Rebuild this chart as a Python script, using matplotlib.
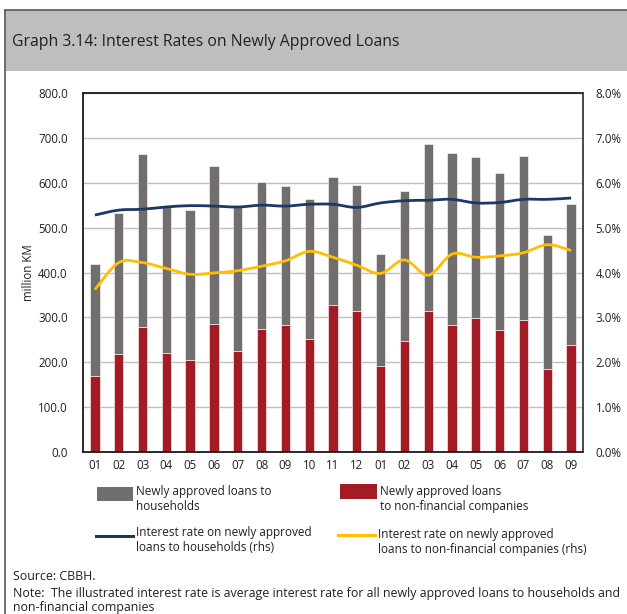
import numpy as np
import matplotlib.pyplot as plt
from matplotlib.path import Path
from matplotlib.patches import PathPatch, Rectangle
from matplotlib.lines import Line2D

plt.rcParams['font.family'] = ['Open Sans', 'DejaVu Sans']

# Monthly data (two years, Jan..Dec then Jan..Sep)
months = ['01', '02', '03', '04', '05', '06', '07', '08', '09', '10', '11', '12',
          '01', '02', '03', '04', '05', '06', '07', '08', '09']
loans_companies = [170, 219, 279, 221, 204, 286, 226, 275, 284, 251, 328, 315,
                   192, 247, 314, 284, 299, 272, 295, 186, 239]
loans_households = [250, 314, 386, 327, 336, 351, 322, 327, 309, 312, 284, 280,
                    249, 334, 372, 383, 358, 349, 364, 297, 314]
rate_households = [5.28, 5.39, 5.41, 5.46, 5.49, 5.48, 5.46, 5.50, 5.48, 5.52, 5.52, 5.45,
                   5.55, 5.60, 5.61, 5.63, 5.55, 5.56, 5.63, 5.63, 5.66]
rate_companies = [3.62, 4.22, 4.22, 4.09, 3.96, 3.99, 4.04, 4.14, 4.26, 4.47, 4.34, 4.16,
                  3.98, 4.28, 3.94, 4.41, 4.34, 4.37, 4.44, 4.62, 4.49]

GRAY = '#726e6d'
RED = '#a31b24'
BLUE = '#1b3866'
YELLOW = '#ffbf00'
BORDER = '#58595b'
TEXT = '#231f20'
W, H = 627, 614


def smooth_path(x, y):
    # Bezier curve through the points, like a spreadsheet "smoothed line"
    pts = np.column_stack([x, y]).astype(float)
    n = len(pts)
    verts = [pts[0]]
    codes = [Path.MOVETO]
    for i in range(n - 1):
        p0 = pts[max(i - 1, 0)]
        p1 = pts[i]
        p2 = pts[i + 1]
        p3 = pts[min(i + 2, n - 1)]
        c1 = p1 + (p2 - p0) / 6.0
        c2 = p2 - (p3 - p1) / 6.0
        verts += [c1, c2, p2]
        codes += [Path.CURVE4] * 3
    return Path(verts, codes)


def fx(px):
    return px / W


def fy(py):
    return 1 - py / H


fig = plt.figure(figsize=(W / 100, H / 100), dpi=100)

# Header band and panel border
fig.patches.append(Rectangle((fx(5), fy(71)), 1, 61 / H, transform=fig.transFigure,
                             facecolor='#bcbec0', edgecolor='none', zorder=0))
fig.add_artist(Line2D([fx(5), 1], [fy(10), fy(10)], transform=fig.transFigure,
                      color=BORDER, lw=1.2))
fig.add_artist(Line2D([fx(5), fx(5)], [0, fy(10)], transform=fig.transFigure,
                      color=BORDER, lw=1.2))
fig.text(fx(12), fy(42), 'Graph 3.14: Interest Rates on Newly Approved Loans',
         fontsize=11.3, color=TEXT, va='center', ha='left')

ax = fig.add_axes([fx(83), fy(452), 500 / W, 359 / H])
x = np.arange(len(months))
ax.bar(x, loans_companies, width=0.39, color=RED, edgecolor='white', linewidth=0.4, zorder=2)
ax.bar(x, loans_households, bottom=loans_companies, width=0.39, color=GRAY,
       edgecolor='white', linewidth=0.4, zorder=2)
ax.set_xlim(-0.5, len(months) - 0.5)
ax.set_ylim(0, 800)
ax.set_yticks(np.arange(0, 801, 100))
ax.set_yticklabels([f'{v:.1f}' for v in np.arange(0, 801, 100)])
ax.set_xticks(x)
ax.set_xticklabels(months)
ax.yaxis.grid(True, color='#bfbfbf', linewidth=1.0, zorder=0)
ax.set_axisbelow(True)
ax.tick_params(length=0, labelsize=8.3, colors=TEXT)
ax.tick_params(axis='y', pad=11)
ax.tick_params(axis='x', pad=5)
ax.set_ylabel('million KM', fontsize=8.3, color=TEXT, labelpad=2)
for s in ['left', 'bottom', 'top']:
    ax.spines[s].set_color('#1a1a1a')
    ax.spines[s].set_linewidth(1.3)
ax.spines['right'].set_visible(False)

ax2 = ax.twinx()
ax2.set_ylim(0, 8)
ax2.set_yticks(np.arange(0, 8.1, 1))
ax2.set_yticklabels([f'{v:.1f}%' for v in np.arange(0, 8.1, 1)])
ax2.tick_params(length=0, labelsize=8.3, colors=TEXT, pad=9)
for s in ['left', 'bottom', 'top']:
    ax2.spines[s].set_visible(False)
ax2.spines['right'].set_color('#3a3a3a')
ax2.spines['right'].set_linewidth(1.3)
ax2.add_patch(PathPatch(smooth_path(x, rate_households), facecolor='none',
                        edgecolor=BLUE, lw=2.0, zorder=3))
ax2.add_patch(PathPatch(smooth_path(x, rate_companies), facecolor='none',
                        edgecolor=YELLOW, lw=2.0, zorder=3))

# Legend, laid out below the plot: swatch on the first text line
fig.patches.append(Rectangle((fx(97), fy(501)), 36 / W, 14 / H, transform=fig.transFigure,
                             facecolor=GRAY, edgecolor='none'))
fig.text(fx(136), fy(499.5), 'Newly approved loans to\nhouseholds',
         fontsize=8.5, color=TEXT, va='center')
fig.patches.append(Rectangle((fx(340), fy(499)), 37 / W, 15 / H, transform=fig.transFigure,
                             facecolor=RED, edgecolor='none'))
fig.text(fx(380), fy(499), 'Newly approved loans\nto non-financial companies',
         fontsize=8.5, color=TEXT, va='center')
fig.add_artist(Line2D([fx(96), fx(133)], [fy(536), fy(536)], transform=fig.transFigure,
                      color=BLUE, lw=2.2))
fig.text(fx(136), fy(540), 'Interest rate on newly approved\nloans to households (rhs)',
         fontsize=8.5, color=TEXT, va='center')
fig.add_artist(Line2D([fx(338), fx(375)], [fy(535), fy(535)], transform=fig.transFigure,
                      color=YELLOW, lw=2.2))
fig.text(fx(378), fy(542), 'Interest rate on newly approved\nloans to non-financial companies (rhs)',
         fontsize=8.5, color=TEXT, va='center')

fig.text(fx(13), fy(577), 'Source: CBBH.', fontsize=8.9, color=TEXT, va='center')
fig.text(fx(13), fy(593),
         'Note:  The illustrated interest rate is average interest rate for all newly approved loans to households and',
         fontsize=8.9, color=TEXT, va='center')
fig.text(fx(13), fy(607), 'non-financial companies', fontsize=8.9, color=TEXT, va='center')

fig.savefig('out.png', dpi=100)
